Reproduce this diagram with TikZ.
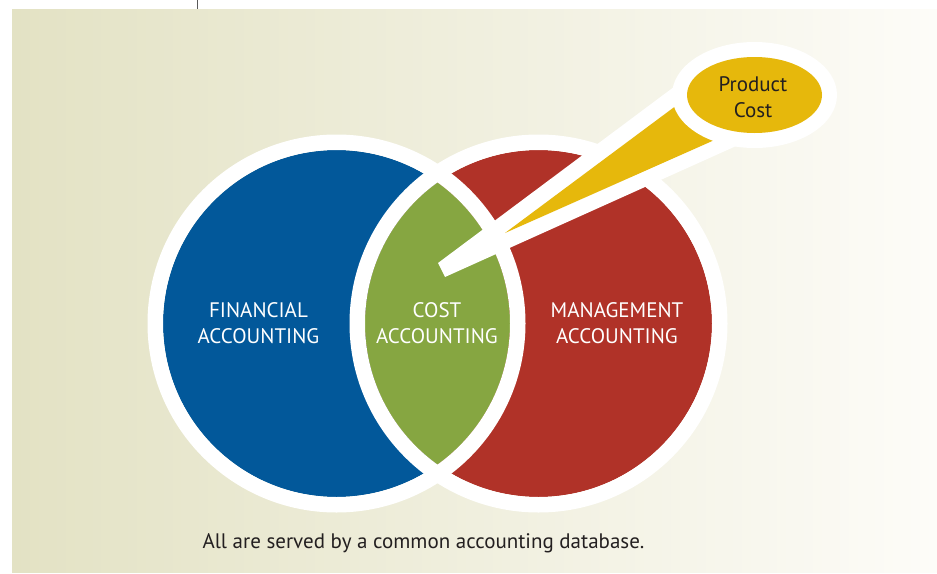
\documentclass[tikz,border=0pt]{standalone}
\usepackage{fontspec}
\setmainfont{PT Sans}
\definecolor{finblue}{RGB}{2,88,154}
\definecolor{mgmtred}{RGB}{176,50,40}
\definecolor{costgreen}{RGB}{134,166,65}
\definecolor{prodyellow}{RGB}{230,184,12}
\definecolor{bgleft}{RGB}{227,226,196}
\definecolor{bgright}{RGB}{253,252,248}
\definecolor{txtdark}{RGB}{35,31,32}
\begin{document}
\begin{tikzpicture}[x=1pt,y=-1pt,
  lbl/.style={text=white, font=\fontsize{21}{26}\selectfont, align=center, inner sep=0pt},
  dark/.style={text=txtdark, font=\fontsize{21}{26}\selectfont, align=center, inner sep=0pt},
  ring/.style={draw=white, line width=15.5pt}]
\useasboundingbox (0,0) rectangle (937,573);
\fill[white] (0,0) rectangle (937,573);
\shade[left color=bgleft,right color=bgright] (12,9) rectangle (937,572);
\draw[gray!70!black, line width=1.5pt] (197.5,0) -- (197.5,9);
% circles
\coordinate (cl) at (336.5,323.5);
\coordinate (cr) at (538.5,323.5);
\fill[finblue] (cl) circle[radius=173.5];
\fill[mgmtred] (cr) circle[radius=173.5];
\begin{scope}
  \clip (cl) circle[radius=173.5];
  \fill[costgreen] (cr) circle[radius=173.5];
\end{scope}
\draw[ring] (cl) circle[radius=181.25];
\draw[ring] (cr) circle[radius=181.25];
% callout
\coordinate (pc) at (754.5,95);
\fill[white] (438,263) -- (445,277) -- (750,139.75) -- (700,67.5) -- cycle;
\fill[prodyellow] (505,233) -- (740,128.7) -- (700,87.9) -- cycle;
\fill[white] (pc) ellipse[x radius=82.5, y radius=53];
\fill[prodyellow] (pc) ellipse[x radius=67.5, y radius=38];
\node[dark] (prod) at (753,97) {Product\\Cost};
% labels
\node[lbl] (fin) at (258.5,323) {FINANCIAL\\ACCOUNTING};
\node[lbl] (cost) at (437,323) {COST\\ACCOUNTING};
\node[lbl] (mgmt) at (617,323) {MANAGEMENT\\ACCOUNTING};
\node[dark] (db) at (423.5,543) {All are served by a common accounting database.};
\end{tikzpicture}
\end{document}
